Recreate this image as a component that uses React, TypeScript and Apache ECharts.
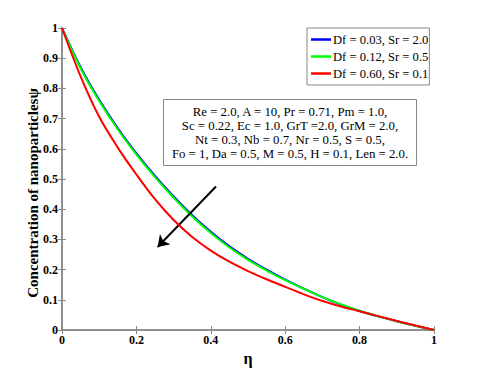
import React, { useEffect, useRef } from "react";
import * as echarts from "echarts";

const eta = [0, 0.05, 0.1, 0.15, 0.2, 0.25, 0.3, 0.35, 0.4, 0.45, 0.5, 0.55, 0.6, 0.65, 0.7, 0.75, 0.8, 0.85, 0.9, 0.95, 1];
const blueVals = [1, 0.87, 0.762, 0.668, 0.585, 0.51, 0.442, 0.38, 0.325, 0.277, 0.236, 0.2, 0.167, 0.137, 0.109, 0.084, 0.063, 0.045, 0.029, 0.014, 0];
const greenVals = [1, 0.866, 0.758, 0.664, 0.581, 0.506, 0.438, 0.376, 0.321, 0.273, 0.232, 0.197, 0.165, 0.136, 0.109, 0.085, 0.064, 0.046, 0.029, 0.014, 0];
const redVals = [1, 0.84, 0.706, 0.604, 0.515, 0.433, 0.364, 0.308, 0.263, 0.226, 0.195, 0.168, 0.143, 0.118, 0.096, 0.078, 0.062, 0.046, 0.03, 0.015, 0];
const seriesNames = ["Df = 0.03, Sr = 2.0", "Df = 0.12, Sr = 0.5", "Df = 0.60, Sr = 0.1"];
const seriesColors = ["#0000ff", "#00ff00", "#ff0000"];
const arrowStart = [0.414, 0.475];
const arrowEnd = [0.257, 0.275];
const yTitle = "Concentration of nanoparticlesψ";
const noteLines = [
  "Re = 2.0, A = 10, Pr = 0.71, Pm = 1.0,",
  "Sc = 0.22, Ec = 1.0, GrT =2.0, GrM = 2.0,",
  "Nt = 0.3, Nb = 0.7, Nr = 0.5, S = 0.5,",
  "Fo = 1, Da = 0.5, M = 0.5, H = 0.1, Len = 2.0.",
];

const FONT = "Times New Roman, Liberation Serif, DejaVu Serif, serif";

export default function App() {
  const ref = useRef<HTMLDivElement>(null);
  useEffect(() => {
    if (!ref.current) return;
    const chart = echarts.init(ref.current, undefined, { renderer: "svg" });
    const valsList = [blueVals, greenVals, redVals];
    const series: any[] = valsList.map((vals, i) => ({
      name: seriesNames[i],
      type: "line",
      data: eta.map((x, k) => [x, vals[k]]),
      smooth: 0.35,
      showSymbol: false,
      lineStyle: { color: seriesColors[i], width: 2 },
      itemStyle: { color: seriesColors[i] },
      z: 3 + i,
    }));
    series[2].markLine = {
      silent: true,
      symbol: ["none", "arrow"],
      symbolSize: 11,
      label: { show: false },
      lineStyle: { color: "#000", width: 2, type: "solid" },
      data: [[{ coord: arrowStart }, { coord: arrowEnd }]],
    };
    const axisCommon = {
      type: "value",
      min: 0,
      max: 1,
      axisLine: { show: true, lineStyle: { color: "#888", width: 1.5 } },
      axisTick: { show: true, inside: true, length: 4, lineStyle: { color: "#888" } },
      splitLine: { show: false },
    };
    chart.setOption({
      animation: false,
      backgroundColor: "#fff",
      textStyle: { fontFamily: FONT },
      grid: { left: 62, right: 46, top: 28, bottom: 42 },
      legend: {
        data: seriesNames,
        orient: "vertical",
        left: 307,
        top: 28,
        padding: [4, 1, 4, 4],
        itemGap: 2,
        itemWidth: 20,
        itemHeight: 2.5,
        icon: "rect",
        borderColor: "#888",
        borderWidth: 1,
        backgroundColor: "#fff",
        textStyle: { fontFamily: FONT, fontSize: 12.6, lineHeight: 15, color: "#000", padding: [0, 0, 0, -3] },
      },
      xAxis: [
        {
          ...axisCommon,
          interval: 0.2,
          position: "bottom",
          name: "η",
          nameLocation: "middle",
          nameGap: 16,
          nameTextStyle: { fontFamily: FONT, fontSize: 16, fontWeight: "bold", color: "#000" },
          axisLabel: { fontFamily: FONT, fontSize: 12, fontWeight: "bold", color: "#000", margin: 4 },
        },
        {
          ...axisCommon,
          interval: 0.2,
          position: "top",
          axisLabel: { show: false },
        },
      ],
      yAxis: [
        {
          ...axisCommon,
          interval: 0.1,
          position: "left",
          axisLabel: { fontFamily: FONT, fontSize: 12, fontWeight: "bold", color: "#000", margin: 4 },
        },
        {
          ...axisCommon,
          interval: 0.1,
          position: "right",
          axisLabel: { show: false },
        },
      ],
      graphic: [
        {
          type: "text",
          x: 33,
          y: 193,
          rotation: Math.PI / 2,
          style: {
            text: yTitle,
            fontFamily: FONT,
            fontSize: 15,
            fontWeight: "bold",
            fill: "#000",
            align: "center",
            verticalAlign: "middle",
          },
        },
        {
          type: "group",
          left: 163,
          top: 99,
          children: [
            {
              type: "rect",
              shape: { x: 0, y: 0, width: 253, height: 66 },
              style: { fill: "#fff", stroke: "#888", lineWidth: 1 },
            },
            {
              type: "text",
              x: 126.5,
              y: 5,
              style: {
                text: noteLines.join("\n"),
                fontFamily: FONT,
                fontSize: 12.8,
                lineHeight: 14,
                fill: "#000",
                align: "center",
                verticalAlign: "top",
              },
            },
          ],
        },
      ],
      series,
    });
    return () => chart.dispose();
  }, []);
  return <div ref={ref} style={{ position: "absolute", left: 0, top: 0, width: 480, height: 372 }} />;
}
